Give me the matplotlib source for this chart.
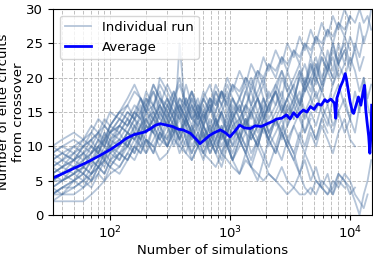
import numpy as np
import matplotlib.pyplot as plt

# shared simulation counts for the individual runs
sims = [33, 40, 50, 60, 70, 80, 90, 100, 120, 140, 160, 180, 200, 230, 260, 300,
        340, 380, 430, 480, 540, 600, 680, 760, 850, 950, 1050, 1200, 1350, 1500,
        1700, 1900, 2100, 2400, 2700, 3000, 3400, 3800, 4200, 4700, 5200, 5800,
        6500, 7200, 8000, 9000, 10000, 11000, 12000, 13000, 14000, 15000]

runs = [
    [6, 7, 8, 9, 10, 9, 11, 12, 13, 12, 14, 15, 13, 16, 14, 17, 15, 16, 14, 18, 16, 15, 17, 16, 18, 17,
     19, 18, 20, 19, 21, 20, 22, 21, 23, 22, 24, 23, 25, 24, 26, 25, 27, 26, 28, 27, 29, 28, 30, 28, 29, 27],
    [3, 4, 5, 4, 6, 7, 6, 8, 9, 8, 10, 9, 11, 10, 8, 9, 11, 10, 9, 8, 10, 9, 8, 7, 9, 8,
     7, 6, 8, 7, 6, 5, 6, 5, 4, 3, 4, 3, 3, 4, 3, 5, 4, 3, 6, 5, 4, 2, 0, 3, 5, 8],
    [2, 3, 3, 4, 5, 6, 8, 9, 10, 12, 11, 13, 15, 14, 16, 13, 15, 17, 16, 14, 15, 13, 16, 14, 12, 15,
     13, 14, 16, 15, 17, 14, 16, 18, 15, 17, 19, 16, 18, 20, 17, 19],
    [10, 9, 8, 10, 11, 9, 12, 10, 13, 15, 14, 16, 12, 14, 17, 15, 13, 16, 14, 12, 15, 13, 11, 14, 12, 10,
     13, 11, 14, 12, 15, 13, 11, 14, 12, 16, 14],
    [5, 6, 5, 7, 6, 8, 7, 9, 8, 10, 12, 11, 9, 13, 11, 10, 12, 14, 11, 9, 12, 10, 13, 11, 9, 12,
     10, 14, 12, 11, 13, 15, 12, 14, 16, 13, 15, 17, 14, 16, 18, 15, 13, 17, 19, 16, 14, 18, 15, 20, 17, 19],
    [8, 7, 9, 8, 10, 9, 11, 13, 12, 14, 16, 15, 18, 16, 19, 17, 15, 14, 16, 18, 15, 13, 17, 14, 16, 18,
     15, 17, 19, 16, 18, 20, 17, 19, 21, 18, 20, 22, 19, 21, 23, 20, 22, 25, 22, 24],
    [4, 5, 6, 5, 7, 8, 10, 9, 11, 10, 12, 10, 9, 11, 13, 10, 12, 9, 11, 8, 10, 12, 9, 11, 13, 10,
     8, 11, 9, 12, 10, 13, 11, 9, 12, 10, 8, 11, 9, 12, 10, 13, 11, 9, 12, 14, 11, 10],
    [7, 8, 7, 9, 8, 10, 9, 11, 10, 12, 11, 13, 14, 12, 15, 13, 11, 25, 14, 12, 15, 11, 13, 10, 12, 14,
     11, 13, 15, 12, 14, 16, 13, 15, 17, 14, 16, 18, 15, 17, 20, 18, 21, 19, 22, 24, 21, 25, 23, 26],
    [6, 7, 8, 7, 9, 10, 12, 11, 13, 12, 14, 13, 16, 14, 12, 15, 13, 11, 14, 12, 10, 13, 11, 9, 12, 10,
     13, 11, 14, 12, 10, 13, 11],
    [9, 10, 9, 11, 10, 12, 11, 13, 15, 17, 19, 17, 15, 16, 18, 14, 17, 15, 19, 16, 14, 17, 15, 18, 16, 14,
     17, 15, 18, 16, 20, 17, 15, 19, 17, 21, 18, 16, 20, 18, 22, 19, 24, 21, 25, 22, 26, 24, 28, 25, 27, 30],
    [3, 4, 4, 5, 6, 7, 8, 7, 9, 10, 9, 11, 13, 12, 10, 12, 14, 11, 13, 10, 12, 9, 11, 13, 10, 12,
     14, 11, 9, 12, 10, 13, 11, 14, 12, 10, 13, 11, 15, 13, 11, 14, 12],
    [5, 5, 6, 7, 6, 8, 9, 10, 9, 11, 13, 12, 14, 15, 13, 16, 14, 12, 15, 17, 14, 16, 13, 15, 18, 16,
     14, 17, 15, 19, 17, 15, 18, 16, 20, 18, 16, 21, 19, 23, 20, 18, 22, 20],
    [7, 6, 8, 9, 7, 10, 8, 11, 12, 10, 13, 14, 12, 15, 13, 16, 18, 15, 17, 14, 16, 13, 15, 17, 14, 12,
     15, 13, 16, 14, 17, 15],
    [2, 2, 2, 2, 3, 4, 5, 6, 7, 9, 8, 10, 11, 9, 12, 10, 13, 11, 9, 12, 10, 8, 11, 9, 7, 10,
     8, 6, 9, 7, 5, 8, 6, 5, 7, 5, 4, 6, 4, 3, 5, 4, 3, 5, 4, 6, 5, 3, 2, 1, 3],
    [8, 9, 10, 11, 12, 14, 13, 15, 14, 16, 18, 17, 15, 19, 17, 16, 14, 17, 15, 13, 16, 14, 17, 15, 18, 16,
     19, 17, 20, 18, 21, 19, 22, 20, 23, 21, 24, 22, 25, 23, 26, 24, 27, 25, 28, 26, 29],
    [4, 5, 6, 7, 8, 7, 9, 8, 10, 12, 11, 13, 12, 14, 16, 14, 12, 15, 11, 13, 10, 12, 9, 11, 13, 10, 12],
    [6, 7, 6, 8, 9, 11, 10, 12, 11, 13, 15, 14, 17, 15, 20, 18, 16, 14, 17, 15, 12, 14, 16, 13, 15, 17,
     14, 16, 13, 15, 12, 14, 16, 13, 15, 17, 14, 16, 19, 17, 15, 18, 16, 19, 21],
    [9, 8, 10, 9, 11, 12, 10, 13, 15, 14, 12, 15, 17, 16, 14, 13, 15, 12, 14, 16, 13, 11, 14, 12, 15, 13,
     16, 14, 12, 15, 13, 17, 15, 18, 16, 14, 17, 15, 19, 22, 20, 23, 21, 24, 22, 20, 23, 21, 18, 20, 16, 14],
    [5, 6, 7, 8, 9, 10, 11, 10, 12, 14, 13, 11, 14, 12, 15, 13, 17, 19, 16, 14, 13, 15, 12, 14, 11, 13,
     10, 12, 14, 11, 13, 15, 12, 14, 11, 13, 16, 14, 12, 15, 13, 16, 14, 12, 15, 17, 14, 12, 16],
    [3, 4, 5, 6, 5, 7, 6, 8, 7, 9, 11, 10, 12, 14, 13, 11, 14, 12, 10, 13, 11, 9, 12, 10, 8, 11,
     9, 12, 10, 8, 11, 9, 7, 10, 8, 11, 9, 6, 8, 5, 7, 4, 6, 3, 5, 4],
    [9, 10, 11, 10, 12, 11, 13, 12, 14, 13, 15, 17, 16, 18, 15, 17, 14, 16, 13, 15, 17, 14, 16, 13, 15, 12,
     14, 16, 13, 15, 17, 14, 16, 18, 15, 17, 19, 21, 18, 20, 22, 19, 21, 23, 20, 22],
    [4, 3, 5, 6, 5, 7, 8, 7, 9, 8, 10, 12, 11, 9, 12, 10, 13, 11, 14, 12, 10, 13, 11, 9, 12, 10,
     8, 11, 9, 7, 10, 8, 11, 9, 12, 10, 8, 6, 9, 7, 5, 4, 3, 4, 6, 5, 3, 4],
    [7, 8, 9, 10, 11, 12, 13, 12, 14, 13, 15, 14, 16, 19, 17, 15, 18, 16, 14, 17, 15, 18, 16, 19, 17, 20,
     18, 21, 19, 22, 20, 23, 21, 24, 22, 25, 23, 26, 24, 27, 25, 28, 26, 29, 27, 30, 28],
    [6, 5, 7, 6, 8, 7, 9, 10, 8, 11, 9, 12, 10, 13, 11, 14, 12, 15, 13, 11, 14, 12, 10, 13, 15, 12,
     14, 11, 13, 16, 14, 12],
    [8, 9, 8, 10, 9, 11, 10, 12, 13, 15, 14, 12, 15, 13, 16, 14, 17, 15, 13, 16, 14, 17, 15, 18, 16, 19,
     17, 15, 18, 20, 17, 19, 16, 18, 21, 19, 17, 20, 22, 19, 21, 24, 22, 20, 23, 25, 22, 24, 21, 23],
    [5, 6, 7, 6, 8, 9, 8, 10, 11, 10, 12, 11, 13, 12, 11, 13, 10, 12, 14, 11, 13, 15, 12, 14, 11, 13,
     15, 12, 10, 13, 11, 14, 12, 10, 13, 11, 9, 12, 10, 13, 11, 14, 16, 13, 15, 12, 14],
    [10, 11, 12, 11, 13, 12, 14, 13, 15, 16, 14, 17, 15, 18, 16, 19, 17, 20, 16, 18, 15, 17, 19, 16, 18, 15,
     17, 14, 16, 18, 15, 17, 14, 16, 18, 15, 17, 20, 18, 22, 19, 23, 21, 25, 22, 26, 24],
    [3, 3, 4, 5, 4, 6, 5, 7, 6, 8, 10, 9, 11, 10, 12, 11, 13, 10, 12, 9, 11, 13, 10, 12, 9, 11,
     8, 10, 12, 9, 11, 13, 10, 12, 14, 11, 13, 15, 12, 14],
]

avg_x = [33.5, 40, 50, 63, 79, 100, 117, 138, 158, 195, 214, 240, 263, 295, 331, 372,
         407, 468, 525, 562, 617, 676, 741, 832, 912, 1000, 1096, 1202, 1318, 1479,
         1622, 1820, 2042, 2239, 2455, 2692, 2951, 3162, 3388, 3631, 3802, 4074, 4365,
         4677, 5012, 5370, 5754, 6166, 6457, 6918, 7413, 7586, 7762, 8318, 8710, 9120,
         9333, 9550, 10000, 10471, 10715, 11220, 11749, 12303, 12882, 13183, 13490,
         13804, 14289, 14622, 14962, 15136]
avg_y = [5.4, 6.0, 6.8, 7.6, 8.5, 9.5, 10.3, 11.2, 11.7, 12.1, 12.5, 13.1, 13.3, 13.1, 12.9, 12.5,
         12.4, 11.9, 11.0, 10.4, 11.0, 11.6, 12.0, 12.4, 12.0, 11.4, 12.2, 13.1, 12.7, 12.6,
         13.0, 12.9, 13.3, 13.6, 14.0, 14.1, 14.6, 14.0, 14.9, 14.3, 14.8, 15.3, 15.0,
         15.8, 15.4, 16.2, 16.0, 16.8, 16.5, 16.9, 16.3, 14.1, 17.0, 18.7, 19.5, 20.6,
         19.8, 18.7, 16.5, 15.0, 14.8, 16.0, 17.2, 16.0, 18.0, 18.9, 15.5,
         13.8, 11.5, 9.0, 12.0, 16.0]

fig = plt.figure(figsize=(3.73, 2.60), dpi=100)
ax = fig.add_axes([0.142, 0.173, 0.855, 0.792])

for i, r in enumerate(runs):
    ax.plot(sims[:len(r)], r, color='#466ea0', alpha=0.4, lw=1.3,
            label='Individual run' if i == 0 else None)
ax.plot(avg_x, avg_y, color='blue', lw=2, label='Average')

ax.set_xscale('log')
ax.set_xlim(33.5, 15200)
ax.set_ylim(0, 30)
ax.set_yticks([0, 5, 10, 15, 20, 25, 30])
ax.grid(True, which='both', ls='--', color='#b0b0b0', lw=0.7, alpha=0.8)
ax.set_xlabel('Number of simulations', fontsize=9.5, labelpad=2)
ax.set_ylabel('Number of elite circuits\nfrom crossover', fontsize=9.5, labelpad=1)
ax.tick_params(labelsize=9.5)
ax.legend(loc='upper left', fontsize=9.5)

fig.savefig('out.png', dpi=100)
